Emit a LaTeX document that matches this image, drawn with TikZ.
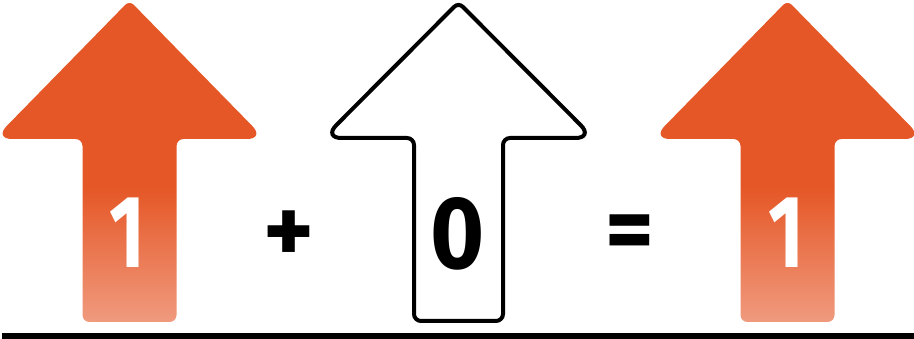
\documentclass[tikz,border=0pt]{standalone}
\usepackage{fontspec}
\setmainfont{Fira Sans}
\definecolor{ormain}{HTML}{E55726}
\definecolor{orlight}{HTML}{F09A7E}
\pgfdeclareverticalshading{arrowshade}{100bp}{color(0bp)=(orlight); color(25bp)=(orlight); color(46bp)=(ormain); color(100bp)=(ormain)}
\tikzset{
  orangearrow/.style={shading=arrowshade, draw=none},
  whitearrow/.style={draw=black, line width=4pt, fill=white},
  digit/.style={font=\bfseries\fontsize{103}{103}\selectfont, inner sep=0pt, anchor=base},
  plussign/.style={font=\bfseries\fontsize{96}{96}\selectfont, inner sep=0pt},
  eqsign/.style={font=\bfseries\fontsize{94}{94}\selectfont, inner sep=0pt},
}
% cx, tip, basey, headhalf, shafthalf, bottom
\newcommand{\uparrowshape}[6]{%
  (#1,#6) [rounded corners=7pt] -- (#1+#5,#6) -- (#1+#5,#3) [rounded corners=18pt] -- (#1+#4,#3) [rounded corners=6pt] -- (#1,#2) [rounded corners=18pt] -- (#1-#4,#3) [rounded corners=7pt] -- (#1-#5,#3) -- (#1-#5,#6) -- cycle}
\begin{document}
\begin{tikzpicture}[x=1pt,y=-1pt]
\useasboundingbox (0,0) rectangle (914,339);
\fill[white] (0,0) rectangle (914,339);
% left orange arrow
\path[orangearrow] \uparrowshape{129.5}{0.5}{139}{135.5}{47}{322};
% middle white arrow
\path[whitearrow] \uparrowshape{458.5}{2.5}{138}{135}{44.5}{321};
% right orange arrow
\path[orangearrow] \uparrowshape{787.5}{0.5}{139}{135.5}{47}{322};
% digits
\node[digit, text=white] (d1) at (127.5,268) {\scalebox{0.75}[1]{1}};
\node[digit, text=black] (d0) at (458,268.5) {\scalebox{0.9}[1]{0}};
\node[digit, text=white] (d2) at (786,268) {\scalebox{0.75}[1]{1}};
% operators
\node[plussign] (plus) at (288.5,237.5) {+};
\node[eqsign] (eq) at (629.5,238) {=};
% ground line
\fill[black] (2,333) rectangle (914,339);
\end{tikzpicture}
\end{document}
